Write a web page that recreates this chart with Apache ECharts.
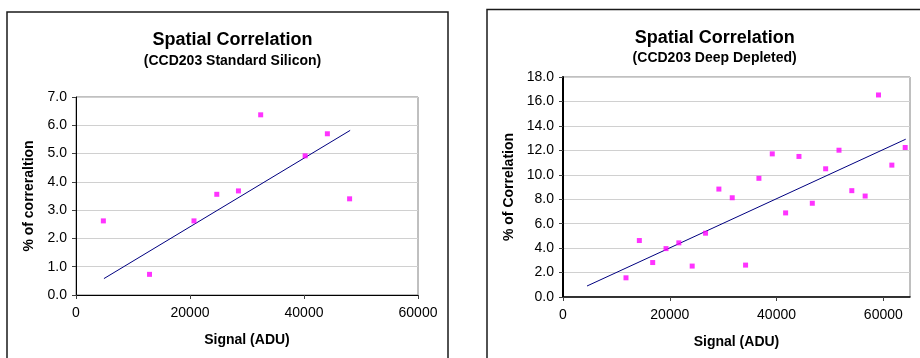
<!DOCTYPE html>
<html>
<head>
<meta charset="utf-8">
<script src="https://cdn.jsdelivr.net/npm/echarts@6/dist/echarts.min.js"></script>
<style>
html,body{margin:0;padding:0;background:#fff;}
#c{width:920px;height:358px;}
</style>
</head>
<body>
<div id="c"></div>
<script>
// ---- Left chart data (CCD203 Standard Silicon) ----
var leftX = [4800, 12900, 20700, 24700, 28500, 32400, 40200, 44100, 48000];
var leftY = [2.62, 0.73, 2.62, 3.56, 3.68, 6.37, 4.92, 5.70, 3.40];
var leftTrendX = [4900, 48100];
var leftTrendY = [0.58, 5.82];
var leftXTicks = [0, 20000, 40000, 60000];

// ---- Right chart data (CCD203 Deep Depleted) ----
var rightX = [11800, 14300, 16800, 19300, 21700, 24200, 26700, 29200, 31700, 34200, 36700,
              39200, 41700, 44200, 46700, 49200, 51700, 54100, 56600, 59100, 61600, 64100];
var rightY = [1.57, 4.62, 2.82, 3.96, 4.43, 2.53, 5.22, 8.83, 8.12, 2.61, 9.71,
              11.71, 6.88, 11.50, 7.67, 10.49, 12.01, 8.70, 8.26, 16.53, 10.79, 12.23];
var rightTrendX = [4500, 64200];
var rightTrendY = [0.90, 12.91];
var rightXTicks = [0, 20000, 40000, 60000];

function pairs(xs, ys){ return xs.map(function(x,i){ return [x, ys[i]]; }); }

var FONT = '"Liberation Sans", Arial, sans-serif';

function yAxis(gi, max, interval, name, gap){
  return {
    gridIndex: gi, type: 'value', min: 0, max: max, interval: interval,
    name: name, nameLocation: 'middle', nameGap: gap,
    nameTextStyle: {fontFamily: FONT, fontSize: 14, fontWeight: 'bold', color: '#000'},
    axisLine: {show: true, lineStyle: {color: '#000', width: gi === 1 ? 2 : 1}},
    axisTick: {show: true, inside: false, length: 4, lineStyle: {color: '#404040'}},
    axisLabel: {fontFamily: FONT, fontSize: 14, color: '#000', margin: 9,
                formatter: function(v){ return v.toFixed(1); }},
    splitLine: {show: true, lineStyle: {color: '#d0d0d0', width: 1}}
  };
}
function xAxis(gi, max, ticks){
  return {
    gridIndex: gi, type: 'value', min: 0, max: max, interval: 20000,
    name: 'Signal (ADU)', nameLocation: 'middle', nameGap: 38,
    nameTextStyle: {fontFamily: FONT, fontSize: 14, fontWeight: 'bold', color: '#000'},
    axisLine: {show: true, onZero: false, lineStyle: {color: '#000', width: gi === 1 ? 1.5 : 1}},
    axisTick: {show: true, inside: false, length: 4, lineStyle: {color: '#404040'}, customValues: ticks},
    axisLabel: {fontFamily: FONT, fontSize: 14, color: '#000', margin: 11, customValues: ticks,
                formatter: function(v){ return String(v); }},
    splitLine: {show: false}
  };
}

var chart = echarts.init(document.getElementById('c'), null, {renderer: 'canvas'});
chart.setOption({
  animation: false,
  backgroundColor: '#fff',
  title: [
    {text: 'Spatial Correlation', left: 227.5, top: 26, textAlign: 'center',
     textStyle: {fontFamily: FONT, fontSize: 18, fontWeight: 'bold', color: '#000'}},
    {text: '(CCD203 Standard Silicon)', left: 227.5, top: 49, textAlign: 'center',
     textStyle: {fontFamily: FONT, fontSize: 14, fontWeight: 'bold', color: '#000'}},
    {text: 'Spatial Correlation', left: 709.7, top: 24, textAlign: 'center',
     textStyle: {fontFamily: FONT, fontSize: 18, fontWeight: 'bold', color: '#000'}},
    {text: '(CCD203 Deep Depleted)', left: 709.7, top: 46.5, textAlign: 'center',
     textStyle: {fontFamily: FONT, fontSize: 14, fontWeight: 'bold', color: '#000'}}
  ],
  graphic: [
    {type: 'rect', shape: {x: 7, y: 12, width: 441, height: 380}, silent: true, z: -1,
     style: {fill: 'none', stroke: '#1a1a1a', lineWidth: 1.5}},
    {type: 'rect', shape: {x: 487, y: 9.5, width: 460, height: 380}, silent: true, z: -1,
     style: {fill: 'none', stroke: '#1a1a1a', lineWidth: 1.5}}
  ],
  grid: [
    {left: 76, right: 502, top: 97, bottom: 63, show: true, borderColor: '#808080', borderWidth: 1, backgroundColor: 'transparent'},
    {left: 563, right: 10, top: 77, bottom: 61, show: true, borderColor: '#808080', borderWidth: 1, backgroundColor: 'transparent'}
  ],
  xAxis: [xAxis(0, 60000, leftXTicks), xAxis(1, 65000, rightXTicks)],
  yAxis: [yAxis(0, 7, 1, '% of correraltion', 40), yAxis(1, 18, 2, '% of Correlation', 47)],
  series: [
    {type: 'scatter', xAxisIndex: 0, yAxisIndex: 0, data: pairs(leftX, leftY),
     symbol: 'rect', symbolSize: 5, itemStyle: {color: '#ff00ff'}, z: 3},
    {type: 'line', xAxisIndex: 0, yAxisIndex: 0, data: pairs(leftTrendX, leftTrendY),
     showSymbol: false, symbol: 'none', lineStyle: {color: '#000080', width: 1}, z: 2},
    {type: 'scatter', xAxisIndex: 1, yAxisIndex: 1, data: pairs(rightX, rightY),
     symbol: 'rect', symbolSize: 5, itemStyle: {color: '#ff00ff'}, z: 3},
    {type: 'line', xAxisIndex: 1, yAxisIndex: 1, data: pairs(rightTrendX, rightTrendY),
     showSymbol: false, symbol: 'none', lineStyle: {color: '#000080', width: 1}, z: 2}
  ]
});
</script>
</body>
</html>
